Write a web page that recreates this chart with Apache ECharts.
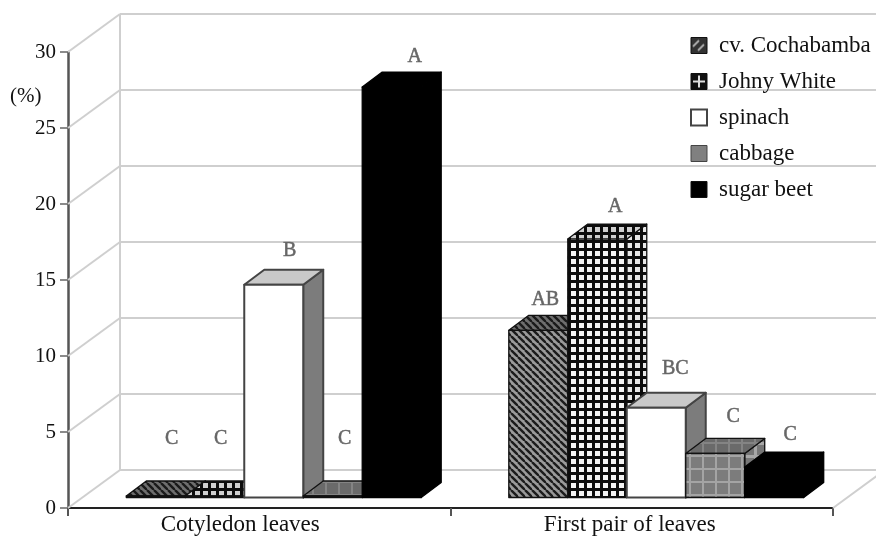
<!DOCTYPE html>
<html>
<head>
<meta charset="utf-8">
<title>Chart</title>
<script src="https://cdn.jsdelivr.net/npm/echarts@6/dist/echarts.min.js"></script>
<style>
  html, body { margin: 0; padding: 0; background: #fff; }
  #main { width: 876px; height: 536px; filter: blur(0.6px); }
</style>
</head>
<body>
<div id="main"></div>
<script>
// values
const categories = ['Cotyledon leaves', 'First pair of leaves']
const cochabamba = [0.1, 11]
const johnyWhite = [0.1, 17]
const spinach = [14, 5.9]
const cabbage = [0.1, 2.9]
const sugarBeet = [27, 2]
const yTicks = [0, 5, 10, 15, 20, 25, 30]

const cochabambaLetters = ['C', 'AB']
const johnyWhiteLetters = ['C', 'A']
const spinachLetters = ['B', 'BC']
const cabbageLetters = ['C', 'C']
const sugarBeetLetters = ['A', 'C']

// hand placed letters, offset from the bar's top back edge
const letterNudge = [
  [[16, -42], [7, -16]],
  [[6, -42], [18, -17]],
  [[16, -19], [19, -24]],
  [[12, -42], [18, -22]],
  [[23, -15], [16, -17]]
]
// the category labels sit left of the band centres
const categoryPadRight = [38, 24]

const serif = '"Liberation Serif", serif'
const wallDx = 52
const wallDy = -38
const floorDx = 14.5
const floorDy = -10.5
const barDx = 20
const barDy = -15
const barRatio = 0.1542

function pattern (w, h, draw) {
  const c = document.createElement('canvas')
  c.width = w
  c.height = h
  draw(c.getContext('2d'), w, h)
  return { image: c, repeat: 'repeat' }
}

function hatch (bg, fg) {
  return pattern(7, 7, function (g, w, h) {
    g.fillStyle = bg
    g.fillRect(0, 0, w, h)
    g.strokeStyle = fg
    g.lineWidth = 2.4
    for (let i = -7; i <= 7; i += 7) {
      g.beginPath()
      g.moveTo(i, 0)
      g.lineTo(i + 7, 7)
      g.stroke()
    }
  })
}

function grid (size, bg, line, lineWidth) {
  return pattern(size, size, function (g, w, h) {
    g.fillStyle = bg
    g.fillRect(0, 0, w, h)
    g.fillStyle = line
    g.fillRect(0, 0, lineWidth, h)
    g.fillRect(0, 0, w, lineWidth)
  })
}

const faces = [
  { front: hatch('#9a9a9a', '#1c1c1c'), top: hatch('#6e6e6e', '#1a1a1a'), side: hatch('#6e6e6e', '#1a1a1a'), stroke: '#111', width: 1.3 },
  { front: grid(8, '#f4f4f4', '#0c0c0c', 3), top: grid(8, '#d0d0d0', '#0c0c0c', 3), side: grid(8, '#e8e8e8', '#0c0c0c', 3), stroke: '#111', width: 1.3 },
  { front: '#fff', top: '#c9c9c9', side: '#7c7c7c', stroke: '#444', width: 2 },
  { front: grid(13, '#7c7c7c', '#a4a4a4', 2), top: grid(13, '#6a6a6a', '#848484', 2), side: grid(13, '#777', '#a8a8a8', 3), stroke: '#111', width: 1.3 },
  { front: '#000', top: '#000', side: '#000', stroke: '#000', width: 1.3 }
]

function barSeries (name, index, values, letters) {
  return {
    name: name,
    type: 'custom',
    z: 3 + index,
    itemStyle: { color: '#000' },
    encode: { x: 0, y: 1 },
    data: values.map(function (v, i) { return [i, v, letters[i]] }),
    renderItem: function (params, api) {
      const cat = api.value(0)
      const v = api.value(1)
      const w = api.size([1, 0])[0] * barRatio
      const centre = api.coord([cat, 0])[0] + floorDx
      const x0 = centre + (index - 2.5) * w
      const x1 = x0 + w
      const y0 = api.coord([cat, 0])[1] + floorDy
      const y1 = api.coord([cat, v])[1] + floorDy
      const f = faces[index]
      const line = { stroke: f.stroke, lineWidth: f.width, lineJoin: 'round' }
      const nudge = letterNudge[index][cat]
      return {
        type: 'group',
        children: [
          { type: 'polygon', shape: { points: [[x1, y0], [x1 + barDx, y0 + barDy], [x1 + barDx, y1 + barDy], [x1, y1]] }, style: Object.assign({ fill: f.side }, line) },
          { type: 'polygon', shape: { points: [[x0, y1], [x1, y1], [x1 + barDx, y1 + barDy], [x0 + barDx, y1 + barDy]] }, style: Object.assign({ fill: f.top }, line) },
          { type: 'polygon', shape: { points: [[x0, y0], [x1, y0], [x1, y1], [x0, y1]] }, style: Object.assign({ fill: f.front }, line) },
          {
            type: 'text',
            style: {
              x: x0 + w / 2 + nudge[0],
              y: y1 + barDy + nudge[1],
              text: api.value(2),
              fill: '#666',
              stroke: '#666',
              lineWidth: 0.5,
              font: '20px ' + serif,
              align: 'center',
              verticalAlign: 'middle'
            }
          }
        ]
      }
    }
  }
}

// back wall, floor and the slanted lines running to the axis ticks
const wallSeries = {
  type: 'custom',
  z: 1,
  silent: true,
  encode: { y: 0 },
  data: yTicks.map(function (t) { return [t] }),
  renderItem: function (params, api) {
    const box = params.coordSys
    const y = api.coord([0, api.value(0)])[1]
    const wallLine = { stroke: '#cfcfcf', lineWidth: 2 }
    const children = [
      { type: 'line', shape: { x1: box.x, y1: y, x2: box.x + wallDx, y2: y + wallDy }, style: wallLine },
      { type: 'line', shape: { x1: box.x + wallDx, y1: y + wallDy, x2: box.x + box.width + wallDx, y2: y + wallDy }, style: wallLine }
    ]
    if (params.dataIndex === 0) {
      children.push(
        { type: 'line', shape: { x1: box.x + wallDx, y1: y + wallDy, x2: box.x + wallDx, y2: box.y + wallDy }, style: wallLine },
        { type: 'line', shape: { x1: box.x + box.width, y1: y, x2: box.x + box.width + wallDx, y2: y + wallDy }, style: wallLine }
      )
    }
    return { type: 'group', children: children }
  }
}

const legendNames = ['cv. Cochabamba', 'Johny White', 'spinach', 'cabbage', 'sugar beet']

const legendIcons = [
  pattern(16, 16, function (g, w, h) {
    g.fillStyle = '#333'
    g.fillRect(0, 0, w, h)
    g.strokeStyle = '#b0b0b0'
    g.lineWidth = 1.8
    g.beginPath()
    g.moveTo(2, 9)
    g.lineTo(8, 3)
    g.moveTo(7, 13)
    g.lineTo(13, 7)
    g.stroke()
  }),
  pattern(16, 16, function (g, w, h) {
    g.fillStyle = '#111'
    g.fillRect(0, 0, w, h)
    g.fillStyle = '#e0e0e0'
    g.fillRect(7, 2, 2, 12)
    g.fillRect(2, 7, 12, 2)
  }),
  '#fff',
  '#808080',
  '#000'
]

const chart = echarts.init(document.getElementById('main'), null, { renderer: 'canvas' })
chart.setOption({
  animation: false,
  backgroundColor: '#fff',
  textStyle: { fontFamily: serif },
  grid: { left: 68, right: 43, top: 52, bottom: 28, containLabel: false },
  legend: {
    orient: 'vertical',
    left: 685,
    top: 29,
    itemWidth: 16,
    itemHeight: 16,
    itemGap: 13,
    selectedMode: false,
    icon: 'rect',
    textStyle: { fontFamily: serif, fontSize: 23, lineHeight: 20, color: '#111', padding: [0, 0, 0, 7] },
    data: legendNames.map(function (n, i) {
      return {
        name: n,
        itemStyle: {
          color: legendIcons[i],
          borderColor: i === 2 || i === 3 ? '#444' : '#111',
          borderWidth: i === 2 ? 2 : 1
        }
      }
    })
  },
  graphic: [
    {
      type: 'text',
      left: 10,
      top: 86,
      style: { text: '(%)', font: '21px ' + serif, fill: '#111' }
    }
  ],
  xAxis: {
    type: 'category',
    data: categories.map(function (c, i) {
      return { value: c, textStyle: { padding: [0, categoryPadRight[i], 0, 0] } }
    }),
    axisLine: { lineStyle: { color: '#222', width: 2 } },
    axisTick: { show: true, interval: 0, alignWithLabel: false, length: 8, lineStyle: { color: '#555', width: 2 } },
    axisLabel: { color: '#111', fontSize: 23, fontFamily: serif, margin: 5, interval: 0 }
  },
  yAxis: {
    type: 'value',
    min: 0,
    max: 30,
    interval: 5,
    splitLine: { show: false },
    axisLine: { show: true, lineStyle: { color: '#555', width: 2.5 } },
    axisTick: { show: true, length: 8, lineStyle: { color: '#666', width: 1.5 } },
    axisLabel: { color: '#111', fontSize: 21, fontFamily: serif, margin: 12 }
  },
  series: [
    wallSeries,
    barSeries(legendNames[0], 0, cochabamba, cochabambaLetters),
    barSeries(legendNames[1], 1, johnyWhite, johnyWhiteLetters),
    barSeries(legendNames[2], 2, spinach, spinachLetters),
    barSeries(legendNames[3], 3, cabbage, cabbageLetters),
    barSeries(legendNames[4], 4, sugarBeet, sugarBeetLetters)
  ]
})
</script>
</body>
</html>
